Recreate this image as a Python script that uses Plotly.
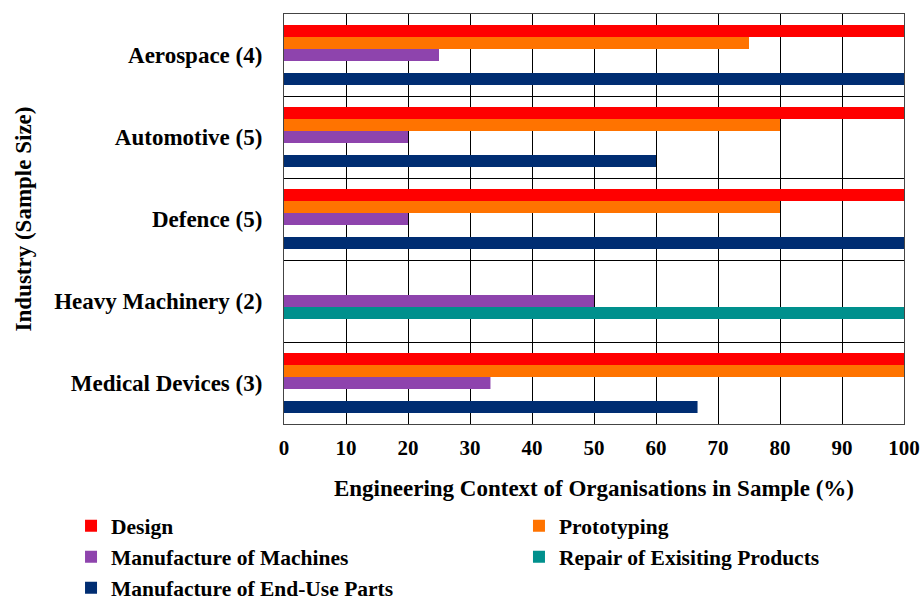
import plotly.graph_objects as go

categories = ["Aerospace (4)", "Automotive (5)", "Defence (5)", "Heavy Machinery (2)", "Medical Devices (3)"]
series_names = ["Design", "Prototyping", "Manufacture of Machines",
                "Repair of Exisiting Products", "Manufacture of End-Use Parts"]
design = [100, 100, 100, 0, 100]
prototyping = [75, 80, 80, 0, 100]
manufacture_machines = [25, 20, 20, 50, 33.3]
repair = [0, 0, 0, 100, 0]
end_use = [100, 60, 100, 0, 66.7]
colors = ["#FF0000", "#FF7300", "#8E44AD", "#00908D", "#002D72"]
legend_groups = ["legend", "legend2", "legend", "legend2", "legend"]

values = [design, prototyping, manufacture_machines, repair, end_use]

FONT = "Liberation Serif"

fig = go.Figure()
for name, vals, col, lg in zip(series_names, values, colors, legend_groups):
    fig.add_trace(go.Bar(
        y=categories, x=vals, name=name, orientation="h",
        marker=dict(color=col, line=dict(width=0)), legend=lg,
    ))

legend_common = dict(
    orientation="v", xanchor="left", yanchor="top",
    font=dict(family=FONT, size=21.5, weight="bold"),
    itemwidth=30, tracegroupgap=0, traceorder="normal",
    bgcolor="rgba(0,0,0,0)",
)

fig.update_layout(
    width=924, height=602,
    barmode="group", bargap=0.27, bargroupgap=0,
    plot_bgcolor="white", paper_bgcolor="white",
    margin=dict(l=284, r=20, t=14, b=178, autoexpand=False),
    font=dict(family=FONT, color="black"),
    showlegend=True,
    legend=dict(x=-0.3435, y=-0.1985, **legend_common),
    legend2=dict(x=0.379, y=-0.1985, **legend_common),
)
fig.update_xaxes(
    range=[0, 100], dtick=10, tick0=0, automargin=False,
    showgrid=True, gridcolor="black", gridwidth=1,
    showline=True, linecolor="#444", linewidth=1, mirror=True,
    ticks="", zeroline=False, ticklabelstandoff=5,
    tickfont=dict(family=FONT, size=21, weight="bold"),
    title=dict(text="Engineering Context of Organisations in Sample (%)",
               font=dict(family=FONT, size=23, weight="bold"), standoff=20),
)
fig.update_yaxes(
    autorange="reversed", tickson="boundaries", automargin=False,
    showgrid=True, gridcolor="black", gridwidth=1,
    showline=True, linecolor="#444", linewidth=1, mirror=True,
    ticks="", ticklabelstandoff=16,
    tickfont=dict(family=FONT, size=23, weight="bold"),
    title=dict(text="Industry (Sample Size)",
               font=dict(family=FONT, size=23, weight="bold"), standoff=16),
)

fig.write_html("out.html", config={"displayModeBar": False},
               post_script="document.body.style.margin='0';")
